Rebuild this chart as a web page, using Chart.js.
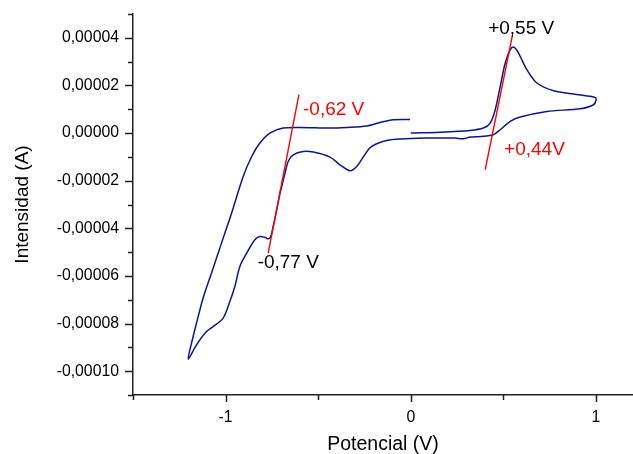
<!DOCTYPE html>
<html>
<head>
<meta charset="utf-8">
<script src="https://cdn.jsdelivr.net/npm/chart.js@4"></script>
<style>
  html, body { margin: 0; padding: 0; background: #fff; }
  #cv { display: block; }
</style>
</head>
<body>
<canvas id="cv" width="633" height="454"></canvas>
<script>
// potential (V) and current (A) in scan order
const potential = [
  0.000, 0.158, 0.321, 0.392, 0.429, 0.456, 0.483, 0.510, 0.537, 0.555,
  0.573, 0.591, 0.627, 0.681, 0.771, 0.879, 0.996, 1.001, 0.987, 0.915,
  0.735, 0.591, 0.537, 0.483, 0.446, 0.375, 0.321, 0.284, 0.239, 0.158,
  0.086, -0.058, -0.130, -0.184, -0.220, -0.256, -0.292, -0.328, -0.382, -0.436,
  -0.526, -0.581, -0.635, -0.662, -0.679, -0.697, -0.706, -0.724, -0.743, -0.757,
  -0.770, -0.788, -0.815, -0.842, -0.886, -0.923, -0.950, -0.977, -1.013, -1.067,
  -1.103, -1.157, -1.202,
  -1.184, -1.157, -1.121, -1.074, -1.022, -0.971, -0.905, -0.859,
  -0.815, -0.761, -0.689, -0.598, -0.436, -0.346, -0.238, -0.166, -0.094, -0.004
];
const current = [
  0, 3.4e-7, 1.09e-6, 2.10e-6, 4.20e-6, 9.79e-6, 1.958e-5, 2.941e-5, 3.50e-5, 3.613e-5,
  3.479e-5, 3.218e-5, 2.660e-5, 2.101e-5, 1.777e-5, 1.639e-5, 1.496e-5, 1.399e-5, 1.189e-5, 1.021e-5,
  9.08e-6, 6.72e-6, 4.87e-6, 1.39e-6, -7.1e-7, -1.43e-6, -1.68e-6, -2.39e-6, -2.10e-6, -2.10e-6,
  -2.10e-6, -2.52e-6, -3.11e-6, -4.50e-6, -6.18e-6, -9.96e-6, -1.403e-5, -1.584e-5, -1.332e-5, -1.008e-5,
  -7.98e-6, -7.73e-6, -9.12e-6, -1.193e-5, -1.681e-5, -2.244e-5, -2.521e-5, -3.223e-5, -3.925e-5, -4.370e-5,
  -4.441e-5, -4.378e-5, -4.345e-5, -4.483e-5, -5.042e-5, -5.605e-5, -6.445e-5, -7.071e-5, -7.773e-5, -8.126e-5,
  -8.336e-5, -8.895e-5, -9.496e-5,
  -8.824e-5, -7.983e-5, -6.915e-5, -5.833e-5, -4.622e-5, -3.445e-5, -1.824e-5, -9.83e-6,
  -4.20e-6, 0, 2.10e-6, 2.35e-6, 2.10e-6, 2.35e-6, 2.94e-6, 4.45e-6, 5.59e-6, 5.71e-6
];

// tangent lines (red)
const tangentCathodic = { potential: [-0.604, -0.770], current: [1.61e-5, -5.04e-5] };
const tangentAnodic = { potential: [0.549, 0.402], current: [4.10e-5, -1.54e-5] };

// annotation labels: text, colour, anchor (V, A), alignment
const notes = [
  { text: "-0,62 V", color: "#ff0000", x: -0.582, y: 9.8e-6, align: "left" },
  { text: "+0,55 V", color: "#000000", x: 0.596, y: 4.38e-5, align: "center" },
  { text: "+0,44V", color: "#ff0000", x: 0.504, y: -7.0e-6, align: "left" },
  { text: "-0,77 V", color: "#000000", x: -0.827, y: -5.45e-5, align: "left" }
];

const FONT = "'Liberation Sans', Arial, sans-serif";
const toXY = (xs, ys) => xs.map((x, i) => ({ x: x, y: ys[i] }));

const tickMarks = {
  id: "tickMarks",
  afterDraw(chart) {
    const ctx = chart.ctx, xs = chart.scales.x, ys = chart.scales.y;
    ctx.save();
    ctx.strokeStyle = "#222";
    ctx.lineWidth = 1.5;
    ctx.beginPath();
    xs.ticks.forEach(t => {
      const p = Math.round(xs.getPixelForValue(t.value)) + 0.5;
      const major = Math.abs(t.value - Math.round(t.value)) < 1e-9;
      ctx.moveTo(p, ys.bottom);
      ctx.lineTo(p, ys.bottom + (major ? 7 : 5));
    });
    ys.ticks.forEach(t => {
      const p = Math.round(ys.getPixelForValue(t.value)) + 0.5;
      const major = Math.round(t.value / 1e-5) % 2 === 0;
      ctx.moveTo(xs.left, p);
      ctx.lineTo(xs.left - (major ? 8 : 5), p);
    });
    ctx.stroke();
    ctx.restore();
  }
};

const noteLabels = {
  id: "noteLabels",
  afterDatasetsDraw(chart) {
    const ctx = chart.ctx, xs = chart.scales.x, ys = chart.scales.y;
    ctx.save();
    ctx.font = "19px " + FONT;
    ctx.textBaseline = "middle";
    notes.forEach(n => {
      ctx.fillStyle = n.color;
      ctx.textAlign = n.align;
      ctx.fillText(n.text, xs.getPixelForValue(n.x), ys.getPixelForValue(n.y));
    });
    ctx.restore();
  }
};

new Chart(document.getElementById("cv"), {
  type: "scatter",
  data: {
    datasets: [
      {
        data: toXY(potential, current),
        showLine: true, borderColor: "#0c1694", borderWidth: 1.5,
        pointRadius: 0, tension: 0.3, order: 2
      },
      {
        data: toXY(tangentCathodic.potential, tangentCathodic.current),
        showLine: true, borderColor: "#ff0000", borderWidth: 1.4, pointRadius: 0, order: 1
      },
      {
        data: toXY(tangentAnodic.potential, tangentAnodic.current),
        showLine: true, borderColor: "#ff0000", borderWidth: 1.4, pointRadius: 0, order: 1
      }
    ]
  },
  options: {
    responsive: false,
    animation: false,
    layout: { padding: { top: 14, right: 0, left: 0, bottom: 0 } },
    plugins: { legend: { display: false }, tooltip: { enabled: false } },
    scales: {
      x: {
        type: "linear", min: -1.5, max: 1.2,
        grid: { display: true, drawOnChartArea: false, drawTicks: false },
        border: { display: true, color: "#222", width: 1.5 },
        ticks: {
          stepSize: 0.5, includeBounds: false, padding: 13, maxRotation: 0, autoSkip: false,
          color: "#000", font: { family: FONT, size: 15.8 },
          callback: v => Math.abs(v - Math.round(v)) < 1e-9 ? String(Math.round(v)) : ""
        },
        title: { display: true, text: "Potencial (V)", color: "#000", font: { family: FONT, size: 19.5, lineHeight: 1 }, padding: { top: 0, bottom: 0 } },
        afterFit: s => { s.height = 59; s.paddingLeft = 0; s.paddingRight = 0; }
      },
      y: {
        type: "linear", min: -0.00011, max: 0.00005,
        grid: { display: true, drawOnChartArea: false, drawTicks: false },
        border: { display: true, color: "#222", width: 1.5 },
        ticks: {
          stepSize: 0.00001, padding: 14, autoSkip: false,
          color: "#000", font: { family: FONT, size: 15.8 },
          callback: v => Math.round(v / 1e-5) % 2 === 0 ? v.toFixed(5).replace(".", ",") : ""
        },
        title: { display: true, text: "Intensidad (A)", color: "#000", font: { family: FONT, size: 19 }, padding: { top: 11, bottom: 0 } },
        afterFit: s => { s.width = 133; s.paddingTop = 0; s.paddingBottom = 0; }
      }
    }
  },
  plugins: [tickMarks, noteLabels]
});
</script>
</body>
</html>
